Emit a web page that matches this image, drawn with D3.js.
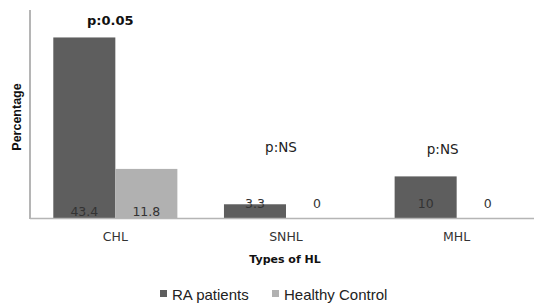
<!DOCTYPE html>
<html>
<head>
<meta charset="utf-8">
<script src="https://cdn.jsdelivr.net/npm/d3@7"></script>
<style>
  body { margin: 0; background: #fff; }
  svg { display: block; }
</style>
</head>
<body>
<svg id="hlChart" width="534" height="305"></svg>
<script>
// data
var categories = ["CHL", "SNHL", "MHL"];
var seriesNames = ["RA patients", "Healthy Control"];
var raValues = [43.4, 3.3, 10];
var controlValues = [11.8, 0, 0];
var pLabels = ["p:0.05", "p:NS", "p:NS"];

var colors = ["#5e5e5e", "#b1b1b1"];

var svg = d3.select("svg#hlChart");

var x0 = d3.scaleBand()
    .domain(categories)
    .range([30, 542])
    .paddingInner(0.273)
    .paddingOuter(0.1365);

var x1 = d3.scaleBand()
    .domain(seriesNames)
    .range([0, x0.bandwidth()]);

var y = d3.scaleLinear()
    .domain([0, 50])
    .range([218, 10]);

var rows = categories.map(function (c, i) {
    return { cat: c, i: i, values: [raValues[i], controlValues[i]] };
});

// bars
var groups = svg.selectAll("g.grp")
    .data(rows)
    .enter()
    .append("g")
    .attr("class", "grp")
    .attr("transform", function (d) { return "translate(" + x0(d.cat) + ",0)"; });

groups.selectAll("rect")
    .data(function (d) { return d.values.map(function (v, k) { return { v: v, k: k }; }); })
    .enter()
    .append("rect")
    .attr("x", function (d) { return x1(seriesNames[d.k]); })
    .attr("y", function (d) { return y(d.v); })
    .attr("width", x1.bandwidth())
    .attr("height", function (d) { return y(0) - y(d.v); })
    .attr("fill", function (d) { return colors[d.k]; });

// value labels, near the base of each bar
groups.each(function (row) {
    d3.select(this).selectAll("text.val")
        .data(row.values)
        .enter()
        .append("text")
        .attr("class", "val")
        .attr("x", function (d, k) { return x1(seriesNames[k]) + x1.bandwidth() / 2; })
        .attr("y", row.i === 0 ? y(0) - 2 : y(0) - 10)
        .attr("text-anchor", "middle")
        .style("font-family", "DejaVu Sans")
        .style("font-size", "12.5px")
        .style("fill", "#333")
        .text(function (d) { return d; });
});

// axes
var xAxis = svg.append("g")
    .attr("transform", "translate(0," + y(0) + ")")
    .call(d3.axisBottom(x0).tickSize(0).tickPadding(14));
xAxis.select("path.domain").remove();
xAxis.selectAll("text")
    .style("font-family", "DejaVu Sans")
    .style("font-size", "12.5px")
    .style("fill", "#333");

svg.append("line")
    .attr("x1", 30).attr("x2", 534)
    .attr("y1", y(0) + 0.5).attr("y2", y(0) + 0.5)
    .attr("stroke", "#b5b5b5")
    .attr("stroke-width", 1.5);

svg.append("line")
    .attr("x1", 30).attr("x2", 30)
    .attr("y1", y(50)).attr("y2", y(0) + 1)
    .attr("stroke", "#b5b5b5")
    .attr("stroke-width", 2);

// p-value annotations
var pShift = [-5, -5, -14];
svg.selectAll("text.pval")
    .data(pLabels)
    .enter()
    .append("text")
    .attr("class", "pval")
    .attr("x", function (d, i) { return x0(categories[i]) + x0.bandwidth() / 2 + pShift[i]; })
    .attr("y", function (d, i) { return i === 0 ? 25 : (i === 1 ? 152 : 154); })
    .attr("text-anchor", "middle")
    .style("font-family", "DejaVu Sans")
    .style("font-size", function (d, i) { return i === 0 ? "13px" : "13.5px"; })
    .style("font-weight", function (d, i) { return i === 0 ? "bold" : "normal"; })
    .style("fill", function (d, i) { return i === 0 ? "#111" : "#222"; })
    .text(function (d) { return d; });

// axis titles
svg.append("text")
    .attr("x", 285)
    .attr("y", 263)
    .attr("text-anchor", "middle")
    .style("font-family", "DejaVu Sans")
    .style("font-size", "11px")
    .style("font-weight", "bold")
    .style("fill", "#111")
    .text("Types of HL");

svg.append("text")
    .attr("transform", "translate(21,117) rotate(-90)")
    .attr("text-anchor", "middle")
    .style("font-family", "Liberation Sans")
    .style("font-size", "12.5px")
    .style("font-weight", "bold")
    .style("fill", "#111")
    .text("Percentage");

// legend
var legendX = [160, 272];
var legend = svg.selectAll("g.leg")
    .data(seriesNames)
    .enter()
    .append("g")
    .attr("class", "leg")
    .attr("transform", function (d, i) { return "translate(" + legendX[i] + ",290)"; });

legend.append("rect")
    .attr("width", 7)
    .attr("height", 7)
    .attr("fill", function (d, i) { return colors[i]; });

legend.append("text")
    .attr("x", 12)
    .attr("y", 10)
    .style("font-family", "Liberation Sans")
    .style("font-size", "15px")
    .style("fill", "#222")
    .text(function (d) { return d; });
</script>
</body>
</html>
